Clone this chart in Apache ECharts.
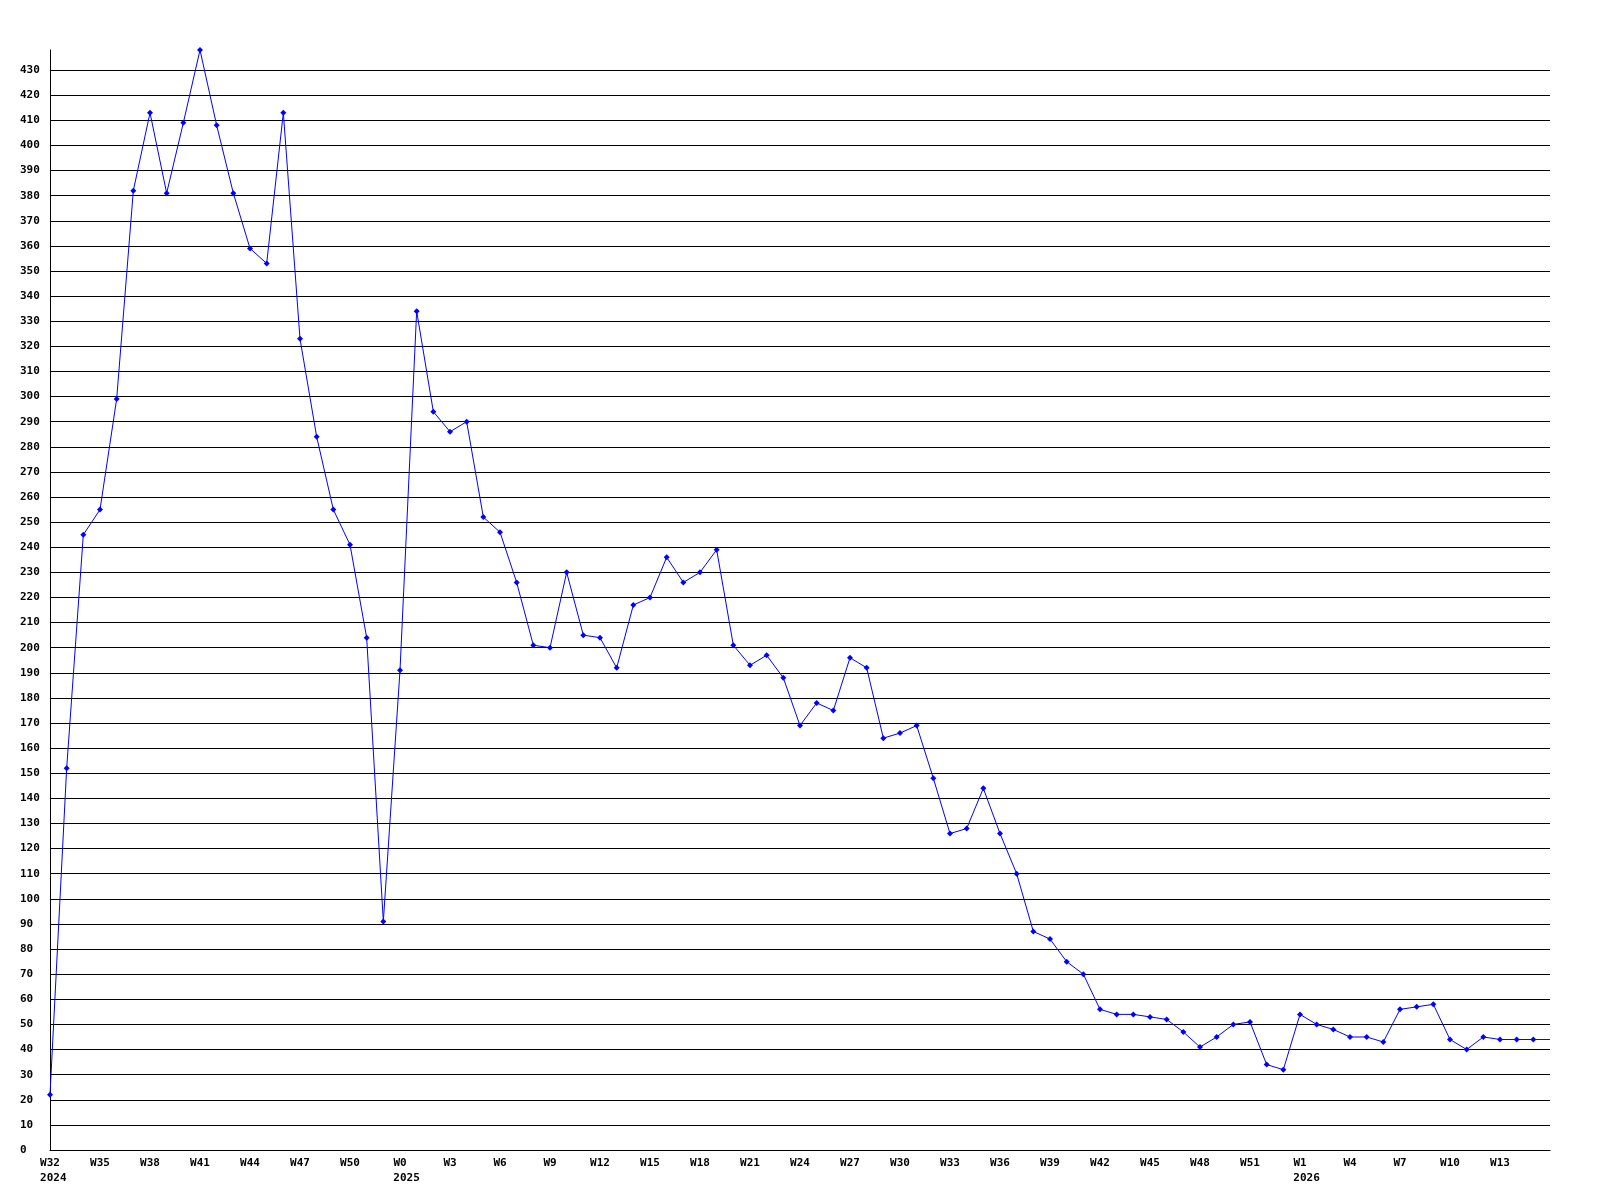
<!DOCTYPE html>
<html>
<head>
<meta charset="utf-8">
<script src="https://cdn.jsdelivr.net/npm/echarts@6/dist/echarts.min.js"></script>
<style>
html,body{margin:0;padding:0;background:#fff;}
#chart{width:1600px;height:1200px;}
</style>
</head>
<body>
<div id="chart"></div>
<script>
// Week categories (week labels as shown on the axis)
const weeks2024 = ["W32","W33","W34","W35","W36","W37","W38","W39","W40","W41","W42","W43","W44","W45","W46","W47","W48","W49","W50","W51","W52"];
const weeks2025 = ["W0","W1","W2","W3","W4","W5","W6","W7","W8","W9","W10","W11","W12","W13","W14","W15","W16","W17","W18","W19","W20","W21","W22","W23","W24","W25","W26","W27","W28","W29","W30","W31","W32","W33","W34","W35","W36","W37","W38","W39","W40","W41","W42","W43","W44","W45","W46","W47","W48","W49","W50","W51","W52"];
const weeks2026 = ["W0","W1","W2","W3","W4","W5","W6","W7","W8","W9","W10","W11","W12","W13","W14","W15","W16"];

const values2024 = [22,152,245,255,299,382,413,381,409,438,408,381,359,353,413,323,284,255,241,204,91];
const values2025 = [191,334,294,286,290,252,246,226,201,200,230,205,204,192,217,220,236,226,230,239,201,193,197,188,169,178,175,196,192,164,166,169,148,126,128,144,126,110,87,84,75,70,56,54,54,53,52,47,41,45,50,51,34];
const values2026 = [32,54,50,48,45,45,43,56,57,58,44,40,45,44,44,44,44];

// Year shown under the first labelled week of each year
const yearLabels = { "2024": "W32", "2025": "W0", "2026": "W1" };

const yMin = 0, yMax = 438, yInterval = 10;

const categories = [];
const values = [];
[[2024, weeks2024, values2024],[2025, weeks2025, values2025],[2026, weeks2026, values2026]].forEach(([yr, wk, vals]) => {
  wk.forEach((w, i) => { categories.push(yr + "|" + w); values.push(vals[i]); });
});

const seriesData = values.map((v, i) => i === values.length - 1 ? { value: v, symbol: 'none' } : v);

const font = '"DejaVu Sans Mono", "Liberation Mono", monospace';
const charW = 6.62;
const rich = { w: { fontFamily: font, fontWeight: 'bold', fontSize: 11, lineHeight: 15, color: '#000', align: 'center' } };
[2, 3, 4].forEach(n => {
  rich['y' + n] = { fontFamily: font, fontWeight: 'bold', fontSize: 11, lineHeight: 15, color: '#000', align: 'left', padding: [0, 0, 0, (4 - n) * charW] };
});

const chart = echarts.init(document.getElementById('chart'), null, { renderer: 'canvas' });
chart.setOption({
  animation: false,
  backgroundColor: '#ffffff',
  grid: { left: 50, right: 50, top: 50, bottom: 50, containLabel: false },
  xAxis: {
    type: 'category',
    data: categories,
    boundaryGap: false,
    axisLine: { show: true, lineStyle: { color: '#000', width: 1 } },
    axisTick: { show: false },
    splitLine: { show: false },
    axisLabel: {
      interval: function (index) { return index % 3 === 0 && index < categories.length - 1; },
      margin: 6,
      color: '#000',
      fontFamily: font,
      fontWeight: 'bold',
      fontSize: 11,
      lineHeight: 15,
      rich: rich,
      formatter: function (val) {
        const [yr, w] = val.split("|");
        return yearLabels[yr] === w ? ('{w|' + w + '}\n{y' + w.length + '|' + yr + '}') : '{w|' + w + '}';
      }
    }
  },
  yAxis: {
    type: 'value',
    min: yMin,
    max: yMax,
    interval: yInterval,
    axisLine: { show: true, lineStyle: { color: '#000', width: 1 } },
    axisTick: { show: false },
    splitLine: { show: true, showMaxLine: false, lineStyle: { color: '#000', width: 1 } },
    axisLabel: {
      showMaxLabel: false,
      align: 'left',
      margin: 30,
      color: '#000',
      fontFamily: font,
      fontWeight: 'bold',
      fontSize: 11
    }
  },
  series: [{
    type: 'line',
    data: seriesData,
    symbol: 'diamond',
    symbolSize: 6,
    showSymbol: true,
    lineStyle: { color: '#0000ff', width: 1 },
    itemStyle: { color: '#0000ff' },
    clip: false
  }]
});
</script>
</body>
</html>
